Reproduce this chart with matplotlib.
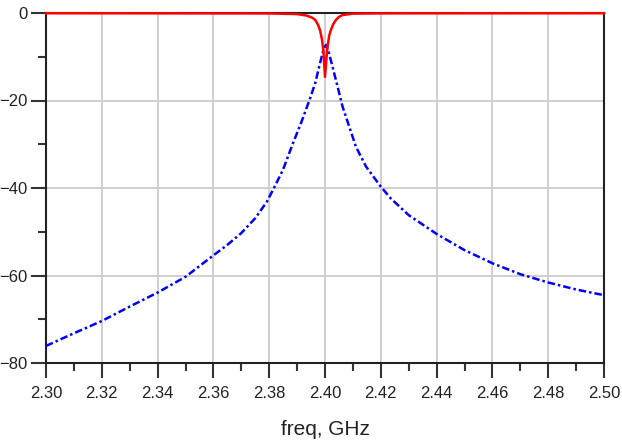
import matplotlib
matplotlib.use("Agg")
import matplotlib.pyplot as plt
from matplotlib.ticker import MultipleLocator

plt.rcParams["font.family"] = ["Liberation Sans", "DejaVu Sans"]

# S21 (blue, dash-dot)
freq_s21 = [2.300, 2.310, 2.320, 2.330, 2.340, 2.350, 2.360, 2.365, 2.370,
            2.375, 2.3792, 2.3817, 2.3849, 2.3885, 2.3915, 2.3946, 2.3965,
            2.3982, 2.3992, 2.3998, 2.4004, 2.4012, 2.4027, 2.4045, 2.4063,
            2.4087, 2.4111, 2.4147, 2.420, 2.4236, 2.430, 2.440, 2.450,
            2.460, 2.470, 2.480, 2.490, 2.500]
s21_db = [-76.1, -73.2, -70.4, -67.1, -63.9, -60.3, -55.4, -53.0, -50.3,
          -46.9, -43.1, -40.0, -35.9, -29.8, -25.0, -19.6, -16.0,
          -11.5, -9.0, -7.8, -7.3, -8.6, -12.3, -16.8, -21.4,
          -26.0, -30.6, -35.1, -39.7, -42.4, -46.2, -50.5, -54.2,
          -57.2, -59.7, -61.6, -63.2, -64.5]

# S11 (red, solid)
freq_s11 = [2.300, 2.380, 2.390, 2.3935, 2.3955, 2.3965, 2.3975, 2.3982,
            2.3989, 2.3994, 2.4000, 2.4005, 2.4009, 2.4015, 2.4021, 2.4030,
            2.4039, 2.4050, 2.4063, 2.410, 2.420, 2.500]
s11_db = [-0.05, -0.1, -0.25, -0.6, -1.1, -1.6, -2.7, -3.9,
          -6.0, -8.5, -14.6, -10.5, -7.7, -5.2, -3.9, -2.5,
          -1.6, -0.9, -0.46, -0.15, -0.08, -0.05]

fig = plt.figure(figsize=(6.22, 4.42), dpi=100)
ax = fig.add_axes([46 / 622, 1 - 363 / 442, 558 / 622, 350 / 442])

ax.plot(freq_s21, s21_db, color="#0000ff", lw=1.8,
        linestyle=(0, (3, 1.2, 1, 1.2)), zorder=3)
ax.plot(freq_s11, s11_db, color="#ff0000", lw=1.8, zorder=4, clip_on=False)

ax.set_xlim(2.30, 2.50)
ax.set_ylim(-80, 0)
ax.xaxis.set_major_locator(MultipleLocator(0.02))
ax.xaxis.set_minor_locator(MultipleLocator(0.01))
ax.yaxis.set_major_locator(MultipleLocator(20))
ax.yaxis.set_minor_locator(MultipleLocator(10))
ax.xaxis.set_major_formatter(plt.FormatStrFormatter("%.2f"))

ax.grid(True, which="major", color="#cfcfcf", lw=1.4, zorder=0)
ax.set_axisbelow(True)

for side in ["left", "bottom", "right", "top"]:
    ax.spines[side].set_color("#222222")
    ax.spines[side].set_linewidth(1.5)

ax.tick_params(which="major", length=11, width=1.5, color="#333333",
               labelsize=12, labelcolor="#222222", pad=2)
ax.tick_params(axis="x", which="major", pad=5.5)
ax.tick_params(which="minor", length=5.5, width=1.5, color="#333333")

ax.set_xlabel("freq, GHz", fontsize=15, color="#222222", labelpad=14)

fig.savefig("out.png", dpi=100)
